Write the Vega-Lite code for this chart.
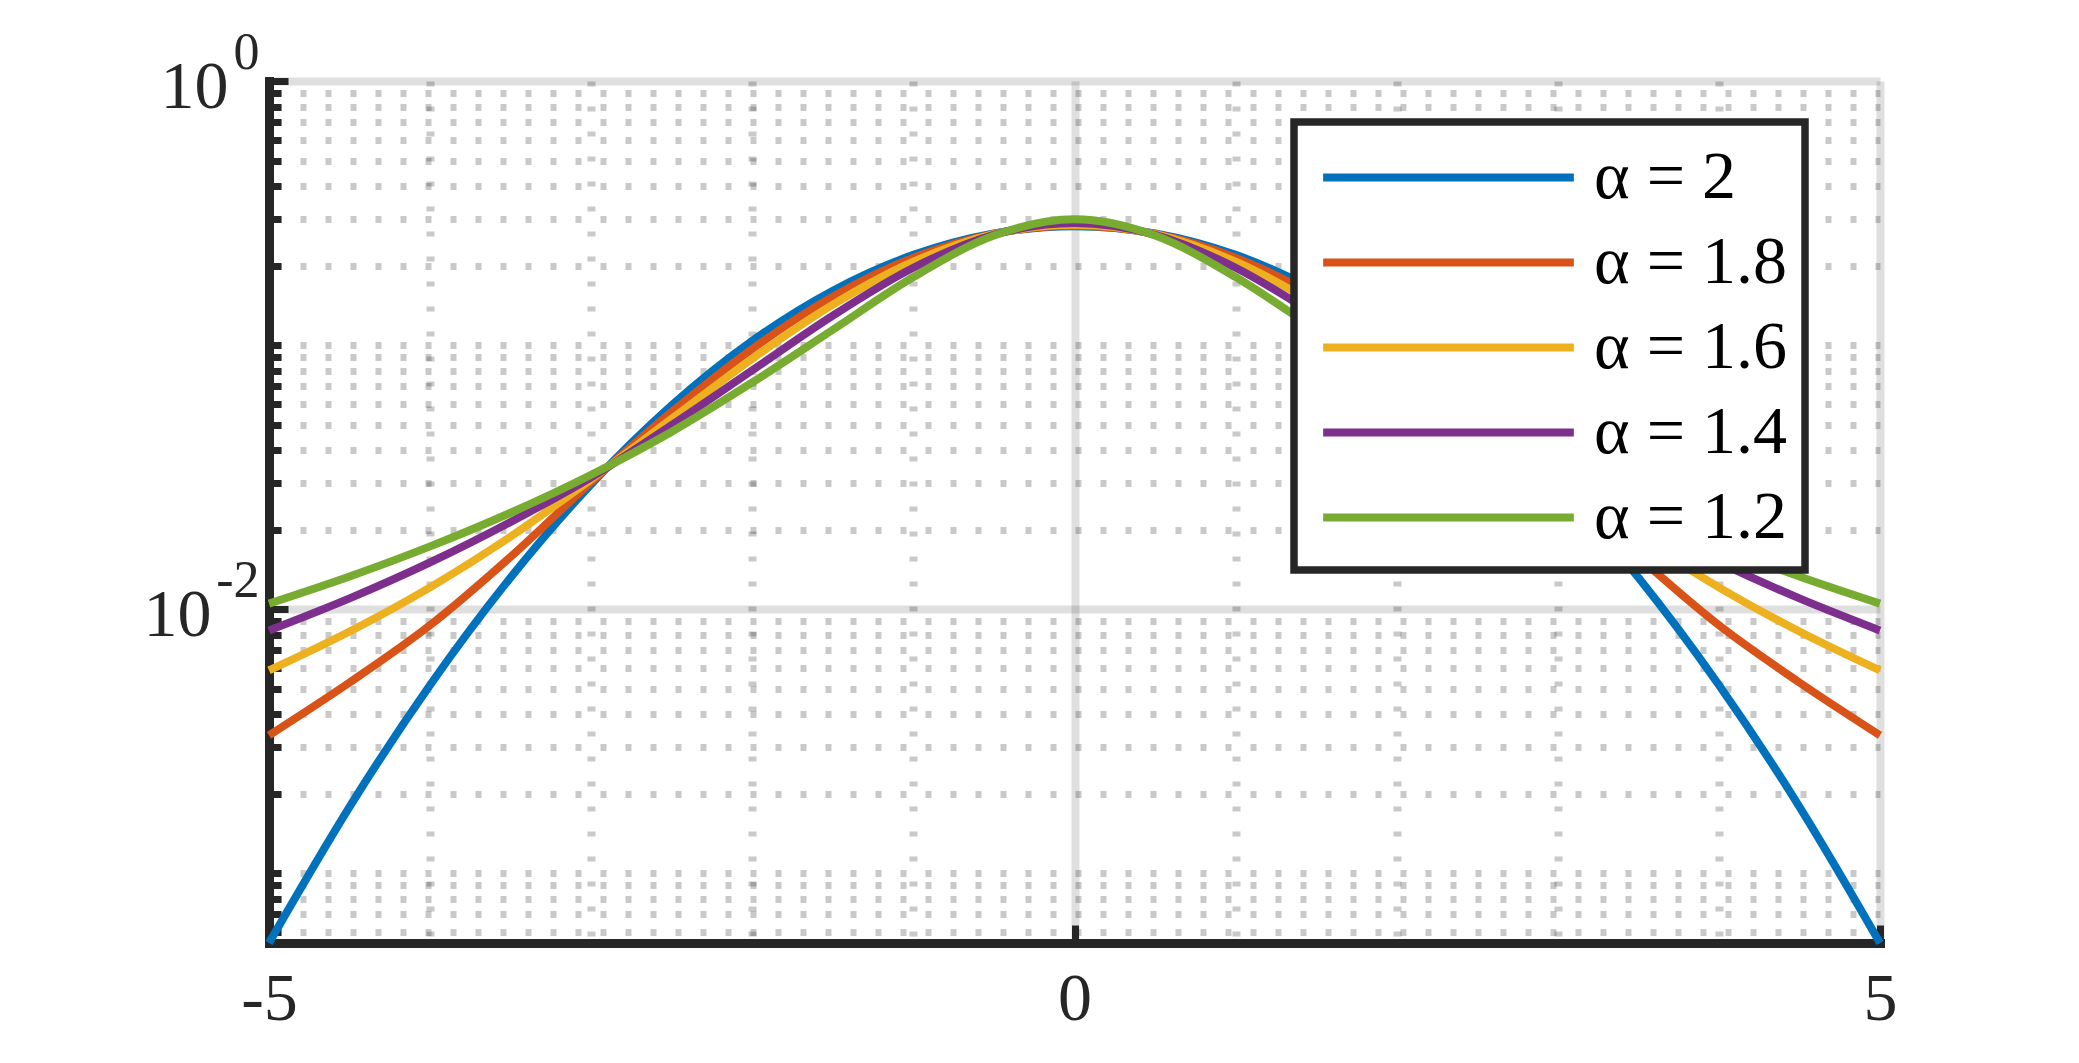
{
  "$schema": "https://vega.github.io/schema/vega-lite/v6.json",
  "width": 1611,
  "height": 862,
  "autosize": {"type": "none"},
  "padding": {"left": 269, "top": 81, "right": 199, "bottom": 120},
  "background": "#ffffff",
  "config": {"view": {"stroke": null}, "font": "Liberation Serif", "legend": {"strokeWidth": 7.5, "labelFont": "Liberation Serif"}},
  "data": {"values": [
    {"a": "α = 2", "x": -5, "y": 0.00054458}, {"a": "α = 2", "x": -4.5, "y": 0.0017855}, {"a": "α = 2", "x": -4, "y": 0.0051666}, {"a": "α = 2", "x": -3.5, "y": 0.013194}, {"a": "α = 2", "x": -3, "y": 0.029732}, {"a": "α = 2", "x": -2.5, "y": 0.05913}, {"a": "α = 2", "x": -2, "y": 0.10377}, {"a": "α = 2", "x": -1.5, "y": 0.16073}, {"a": "α = 2", "x": -1, "y": 0.21969}, {"a": "α = 2", "x": -0.5, "y": 0.265}, {"a": "α = 2", "x": 0, "y": 0.28209}, {"a": "α = 2", "x": 0.5, "y": 0.265}, {"a": "α = 2", "x": 1, "y": 0.21969}, {"a": "α = 2", "x": 1.5, "y": 0.16073}, {"a": "α = 2", "x": 2, "y": 0.10377}, {"a": "α = 2", "x": 2.5, "y": 0.05913}, {"a": "α = 2", "x": 3, "y": 0.029732}, {"a": "α = 2", "x": 3.5, "y": 0.013194}, {"a": "α = 2", "x": 4, "y": 0.0051666}, {"a": "α = 2", "x": 4.5, "y": 0.0017855}, {"a": "α = 2", "x": 5, "y": 0.00054458},
    {"a": "α = 1.8", "x": -5, "y": 0.00333}, {"a": "α = 1.8", "x": -4.5, "y": 0.00528}, {"a": "α = 1.8", "x": -4, "y": 0.0087}, {"a": "α = 1.8", "x": -3.5, "y": 0.0158}, {"a": "α = 1.8", "x": -3, "y": 0.0303}, {"a": "α = 1.8", "x": -2.5, "y": 0.05583}, {"a": "α = 1.8", "x": -2, "y": 0.09675}, {"a": "α = 1.8", "x": -1.5, "y": 0.1526}, {"a": "α = 1.8", "x": -1, "y": 0.21421}, {"a": "α = 1.8", "x": -0.5, "y": 0.26387}, {"a": "α = 1.8", "x": 0, "y": 0.28309}, {"a": "α = 1.8", "x": 0.5, "y": 0.26387}, {"a": "α = 1.8", "x": 1, "y": 0.21421}, {"a": "α = 1.8", "x": 1.5, "y": 0.1526}, {"a": "α = 1.8", "x": 2, "y": 0.09675}, {"a": "α = 1.8", "x": 2.5, "y": 0.05583}, {"a": "α = 1.8", "x": 3, "y": 0.0303}, {"a": "α = 1.8", "x": 3.5, "y": 0.0158}, {"a": "α = 1.8", "x": 4, "y": 0.0087}, {"a": "α = 1.8", "x": 4.5, "y": 0.00528}, {"a": "α = 1.8", "x": 5, "y": 0.00333},
    {"a": "α = 1.6", "x": -5, "y": 0.00586}, {"a": "α = 1.6", "x": -4.5, "y": 0.00823}, {"a": "α = 1.6", "x": -4, "y": 0.0121}, {"a": "α = 1.6", "x": -3.5, "y": 0.01884}, {"a": "α = 1.6", "x": -3, "y": 0.03104}, {"a": "α = 1.6", "x": -2.5, "y": 0.05259}, {"a": "α = 1.6", "x": -2, "y": 0.08885}, {"a": "α = 1.6", "x": -1.5, "y": 0.14224}, {"a": "α = 1.6", "x": -1, "y": 0.20679}, {"a": "α = 1.6", "x": -0.5, "y": 0.26281}, {"a": "α = 1.6", "x": 0, "y": 0.28539}, {"a": "α = 1.6", "x": 0.5, "y": 0.26281}, {"a": "α = 1.6", "x": 1, "y": 0.20679}, {"a": "α = 1.6", "x": 1.5, "y": 0.14224}, {"a": "α = 1.6", "x": 2, "y": 0.08885}, {"a": "α = 1.6", "x": 2.5, "y": 0.05259}, {"a": "α = 1.6", "x": 3, "y": 0.03104}, {"a": "α = 1.6", "x": 3.5, "y": 0.01884}, {"a": "α = 1.6", "x": 4, "y": 0.0121}, {"a": "α = 1.6", "x": 4.5, "y": 0.00823}, {"a": "α = 1.6", "x": 5, "y": 0.00586},
    {"a": "α = 1.4", "x": -5, "y": 0.00831}, {"a": "α = 1.4", "x": -4.5, "y": 0.01099}, {"a": "α = 1.4", "x": -4, "y": 0.01504}, {"a": "α = 1.4", "x": -3.5, "y": 0.0214}, {"a": "α = 1.4", "x": -3, "y": 0.0316}, {"a": "α = 1.4", "x": -2.5, "y": 0.0498}, {"a": "α = 1.4", "x": -2, "y": 0.08029}, {"a": "α = 1.4", "x": -1.5, "y": 0.12938}, {"a": "α = 1.4", "x": -1, "y": 0.19632}, {"a": "α = 1.4", "x": -0.5, "y": 0.26175}, {"a": "α = 1.4", "x": 0, "y": 0.29012}, {"a": "α = 1.4", "x": 0.5, "y": 0.26175}, {"a": "α = 1.4", "x": 1, "y": 0.19632}, {"a": "α = 1.4", "x": 1.5, "y": 0.12938}, {"a": "α = 1.4", "x": 2, "y": 0.08029}, {"a": "α = 1.4", "x": 2.5, "y": 0.0498}, {"a": "α = 1.4", "x": 3, "y": 0.0316}, {"a": "α = 1.4", "x": 3.5, "y": 0.0214}, {"a": "α = 1.4", "x": 4, "y": 0.01504}, {"a": "α = 1.4", "x": 4.5, "y": 0.01099}, {"a": "α = 1.4", "x": 5, "y": 0.00831},
    {"a": "α = 1.2", "x": -5, "y": 0.0105}, {"a": "α = 1.2", "x": -4.5, "y": 0.0133}, {"a": "α = 1.2", "x": -4, "y": 0.01729}, {"a": "α = 1.2", "x": -3.5, "y": 0.02319}, {"a": "α = 1.2", "x": -3, "y": 0.0323}, {"a": "α = 1.2", "x": -2.5, "y": 0.047}, {"a": "α = 1.2", "x": -2, "y": 0.0722}, {"a": "α = 1.2", "x": -1.5, "y": 0.1143}, {"a": "α = 1.2", "x": -1, "y": 0.18098}, {"a": "α = 1.2", "x": -0.5, "y": 0.25999}, {"a": "α = 1.2", "x": 0, "y": 0.29942}, {"a": "α = 1.2", "x": 0.5, "y": 0.25999}, {"a": "α = 1.2", "x": 1, "y": 0.18098}, {"a": "α = 1.2", "x": 1.5, "y": 0.1143}, {"a": "α = 1.2", "x": 2, "y": 0.0722}, {"a": "α = 1.2", "x": 2.5, "y": 0.047}, {"a": "α = 1.2", "x": 3, "y": 0.0323}, {"a": "α = 1.2", "x": 3.5, "y": 0.02319}, {"a": "α = 1.2", "x": 4, "y": 0.01729}, {"a": "α = 1.2", "x": 4.5, "y": 0.0133}, {"a": "α = 1.2", "x": 5, "y": 0.0105}
  ]},
  "layer": [
    {
      "mark": {"type": "point", "opacity": 0},
      "encoding": {
        "x": {"field": "x", "type": "quantitative", "scale": {"domain": [-5, 5], "nice": false, "zero": false},
          "axis": {"orient": "bottom", "values": [-4, -3, -2, -1, 1, 2, 3, 4], "title": null, "labels": false, "ticks": false, "domain": false,
            "grid": true, "gridColor": "#262626", "gridOpacity": 0.25, "gridWidth": 8, "gridDash": [5, 20], "gridDashOffset": 0}},
        "y": {"field": "y", "type": "quantitative", "scale": {"type": "log", "domain": [0.00054458, 1], "nice": false},
          "axis": {"orient": "left", "values": [0.0006, 0.0007, 0.0008, 0.0009, 0.001, 0.002, 0.003, 0.004, 0.005, 0.006, 0.007, 0.008, 0.009, 0.02, 0.03, 0.04, 0.05, 0.06, 0.07, 0.08, 0.09, 0.1, 0.2, 0.3, 0.4, 0.5, 0.6, 0.7, 0.8, 0.9],
            "title": null, "labels": false, "domain": false,
            "ticks": true, "tickSize": -12, "tickWidth": 7, "tickColor": "#262626",
            "grid": true, "gridColor": "#262626", "gridOpacity": 0.25, "gridWidth": 7, "gridDash": [6, 19], "gridDashOffset": 19}}
      }
    },
    {
      "mark": {"type": "line", "strokeWidth": 8, "interpolate": "monotone"},
      "encoding": {
        "x": {"field": "x", "type": "quantitative", "scale": {"domain": [-5, 5], "nice": false, "zero": false},
          "axis": {"orient": "bottom", "values": [-5, 0, 5], "title": null, "labelExpr": "'' + datum.value",
            "labelFont": "Liberation Serif", "labelFontSize": 68, "labelColor": "#262626", "labelPadding": 40, "labelFlush": false,
            "domain": true, "domainColor": "#262626", "domainWidth": 9, "domainCap": "square",
            "ticks": true, "tickSize": -18, "tickWidth": 7, "tickColor": "#262626",
            "grid": true, "gridColor": "#262626", "gridOpacity": 0.15, "gridWidth": 8}},
        "y": {"field": "y", "type": "quantitative", "scale": {"type": "log", "domain": [0.00054458, 1], "nice": false},
          "axis": {"orient": "left", "values": [0.01, 1], "title": null, "labelExpr": "'10'",
            "labelFont": "Liberation Serif", "labelFontSize": 68, "labelColor": "#262626", "labelAlign": "right", "labelBaseline": "alphabetic",
            "labelOffset": 26, "labelFlush": false,
            "labelPadding": {"condition": {"test": "datum.value == 1", "value": 60}, "value": 77},
            "domain": true, "domainColor": "#262626", "domainWidth": 9, "domainCap": "square",
            "ticks": true, "tickSize": -19, "tickWidth": 7, "tickColor": "#262626",
            "grid": true, "gridColor": "#262626", "gridOpacity": 0.15, "gridWidth": 8}},
        "color": {"field": "a", "type": "nominal",
          "scale": {"domain": ["α = 2", "α = 1.8", "α = 1.6", "α = 1.4", "α = 1.2"], "range": ["#0072BD", "#D95319", "#EDB120", "#7E2F8E", "#77AC30"]},
          "legend": {"title": null, "orient": "none", "legendX": 1025, "legendY": 41,
            "symbolType": "M-3.75,0H3.75", "symbolSize": 4470, "symbolStrokeWidth": 8, "symbolOffset": 99,
            "labelFont": "Liberation Serif", "labelFontSize": 68, "labelColor": "#000000", "labelLimit": 0, "labelOffset": 108,
            "labelExpr": "datum.label + '\u00a0\u2009'",
            "strokeColor": "#262626", "fillColor": "#ffffff", "padding": 18, "rowPadding": 13}}
      }
    },
    {
      "mark": {"type": "point", "opacity": 0},
      "encoding": {
        "x": {"field": "x", "type": "quantitative", "scale": {"domain": [-5, 5], "nice": false, "zero": false}, "axis": null},
        "y": {"field": "y", "type": "quantitative", "scale": {"type": "log", "domain": [0.00054458, 1], "nice": false},
          "axis": {"orient": "left", "values": [0.01, 1], "title": null, "labelExpr": "datum.value == 1 ? '0' : '-2'",
            "labelFont": "Liberation Serif", "labelFontSize": 52, "labelColor": "#262626", "labelAlign": "right", "labelBaseline": "alphabetic",
            "labelOffset": -13, "labelPadding": 10, "labelFlush": false, "ticks": false, "domain": false, "grid": false}}
      }
    }
  ],
  "resolve": {"axis": {"x": "independent", "y": "independent"}}
}
